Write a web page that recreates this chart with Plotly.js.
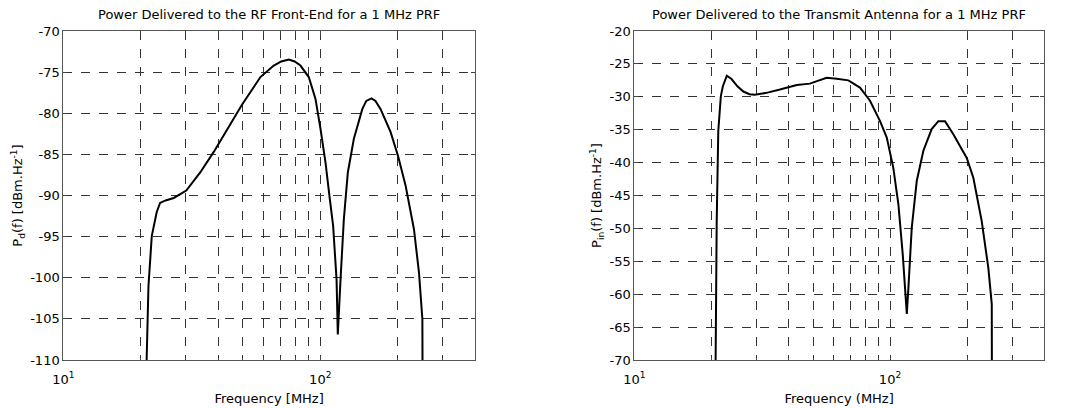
<!DOCTYPE html>
<html>
<head>
<meta charset="utf-8">
<script src="https://cdn.plot.ly/plotly-3.0.1.min.js"></script>
<style>
  html, body { margin: 0; padding: 0; background: #fff; }
  #chart { width: 1065px; height: 408px; }
</style>
</head>
<body>
<div id="chart"></div>
<script>
// ---- Data ----
// Left panel: power delivered to the RF front-end
const freqRF = [21.0, 21.1, 21.45, 22.1, 23.1, 23.8, 25.0, 26.9, 30.1, 34.1, 38.5, 43.4, 49.5, 58.5, 65.9, 70.5, 75.4, 79.5, 83.7, 90.2, 95.8, 100.2, 104.8, 108.9, 112.2, 115.7, 117.0, 119.9, 123.5, 128.0, 135.1, 145.7, 151.0, 158.3, 164.0, 171.7, 187.8, 200.5, 214.8, 231.5, 242.1, 249.6, 250.5, 250.5];
const powerRF = [-120, -110, -101.0, -94.9, -92.0, -90.9, -90.6, -90.3, -89.4, -87.2, -84.7, -81.9, -79.0, -75.6, -74.2, -73.7, -73.46, -73.7, -74.2, -75.6, -78.25, -81.9, -86.0, -90.4, -93.7, -100.2, -106.9, -100.2, -92.9, -87.2, -83.1, -79.5, -78.5, -78.2, -78.5, -79.5, -82.3, -85.15, -88.8, -94.1, -99.35, -105, -110, -120];

// Right panel: power delivered to the transmit antenna
const freqAnt = [20.7, 20.8, 21.0, 21.3, 21.8, 22.2, 23.0, 24.0, 25.3, 26.7, 28.2, 29.6, 32.9, 37.1, 43.2, 48.6, 56.5, 61.9, 68.7, 76.3, 83.5, 91.4, 97.1, 103.0, 107.8, 112.1, 114.5, 116.3, 118.0, 121.6, 127.2, 135.0, 145.5, 154.5, 164.1, 176.8, 199.5, 211.7, 228.3, 242.3, 249.9, 250.5, 250.5];
const powerAnt = [-80, -70, -48.9, -35.2, -29.9, -28.4, -26.8, -27.3, -28.4, -29.2, -29.6, -29.7, -29.4, -28.9, -28.2, -28.0, -27.1, -27.25, -27.5, -28.6, -30.6, -33.7, -36.2, -40.8, -46.3, -53.9, -59.0, -63.0, -59.0, -49.9, -42.8, -38.2, -34.9, -33.7, -33.7, -35.7, -39.3, -42.3, -48.9, -56.0, -61.5, -70, -80];

// Axis ticks
const xTickVals = [10, 100];
const xTickText = ['10<sup>1</sup>', '10<sup>2</sup>'];
const xMinorVals = [20, 30, 40, 50, 60, 70, 80, 90, 200, 300, 400];
const yTicksRF = [-110, -105, -100, -95, -90, -85, -80, -75, -70];
const yTicksAnt = [-70, -65, -60, -55, -50, -45, -40, -35, -30, -25, -20];

// Titles
const titleRF = 'Power Delivered to the RF Front-End for a 1 MHz PRF';
const titleAnt = 'Power Delivered to the Transmit Antenna for a 1 MHz PRF';
const xTitleRF = 'Frequency [MHz]';
const xTitleAnt = 'Frequency (MHz]';
const yTitleRF = 'P<sub>d</sub>(f) [dBm.Hz<sup>-1</sup>]';
const yTitleAnt = 'P<sub>in</sub>(f) [dBm.Hz<sup>-1</sup>]';

// ---- Plot ----
const FONT = 'DejaVu Sans, Liberation Sans, Arial, sans-serif';
const FS = 13;

function xAxis(domain, anchor, title) {
  return {
    type: 'log', domain: domain, anchor: anchor,
    range: [1, Math.log10(400)],
    tickmode: 'array', tickvals: xTickVals, ticktext: xTickText,
    ticks: 'inside', ticklen: 4, tickcolor: '#444', mirror: 'ticks',
    minor: {tickmode: 'array', tickvals: xMinorVals, ticks: 'inside', ticklen: 2, tickcolor: '#444',
            showgrid: true, gridcolor: '#333', gridwidth: 1, griddash: 'dash'},
    showline: true, linecolor: '#555', linewidth: 1,
    showgrid: true, gridcolor: '#333', gridwidth: 1, griddash: 'dash',
    zeroline: false, ticklabelstandoff: 7,
    tickfont: {family: FONT, size: FS, color: '#000'},
    title: {text: title, font: {family: FONT, size: FS, color: '#000'}, standoff: 8},
    automargin: false
  };
}
function yAxis(domain, anchor, range, vals, title) {
  return {
    domain: domain, anchor: anchor, range: range,
    tickmode: 'array', tickvals: vals, ticktext: vals.map(v => String(v)),
    ticks: 'inside', ticklen: 4, tickcolor: '#444', mirror: 'ticks',
    showline: true, linecolor: '#555', linewidth: 1,
    showgrid: true, gridcolor: '#333', gridwidth: 1, griddash: 'dash',
    zeroline: false, ticklabelstandoff: 0,
    tickfont: {family: FONT, size: FS, color: '#000'},
    title: {text: title, font: {family: FONT, size: FS, color: '#000'}, standoff: 4},
    automargin: false
  };
}

const data = [
  {x: freqRF, y: powerRF, xaxis: 'x', yaxis: 'y', type: 'scatter', mode: 'lines',
   line: {color: '#000', width: 2}, hoverinfo: 'skip'},
  {x: freqAnt, y: powerAnt, xaxis: 'x2', yaxis: 'y2', type: 'scatter', mode: 'lines',
   line: {color: '#000', width: 2}, hoverinfo: 'skip'}
];

const layout = {
  width: 1065, height: 408,
  margin: {l: 0, r: 0, t: 31, b: 48},
  paper_bgcolor: '#fff', plot_bgcolor: '#fff',
  showlegend: false,
  font: {family: FONT, size: FS, color: '#000'},
  xaxis: xAxis([63.3 / 1065, 475 / 1065], 'y', xTitleRF),
  yaxis: yAxis([0, 1], 'x', [-110, -70], yTicksRF, yTitleRF),
  xaxis2: xAxis([634.3 / 1065, 1044 / 1065], 'y2', xTitleAnt),
  yaxis2: yAxis([0, 1], 'x2', [-70, -20], yTicksAnt, yTitleAnt),
  annotations: [
    {text: titleRF, xref: 'paper', yref: 'paper', x: (63.3 + 475) / 2 / 1065, y: 1 + 16 / 329,
     xanchor: 'center', yanchor: 'middle', showarrow: false, font: {family: FONT, size: FS, color: '#000'}},
    {text: titleAnt, xref: 'paper', yref: 'paper', x: (634.3 + 1044) / 2 / 1065, y: 1 + 16 / 329,
     xanchor: 'center', yanchor: 'middle', showarrow: false, font: {family: FONT, size: FS, color: '#000'}}
  ]
};

Plotly.newPlot('chart', data, layout, {staticPlot: true, displayModeBar: false});
</script>
</body>
</html>
